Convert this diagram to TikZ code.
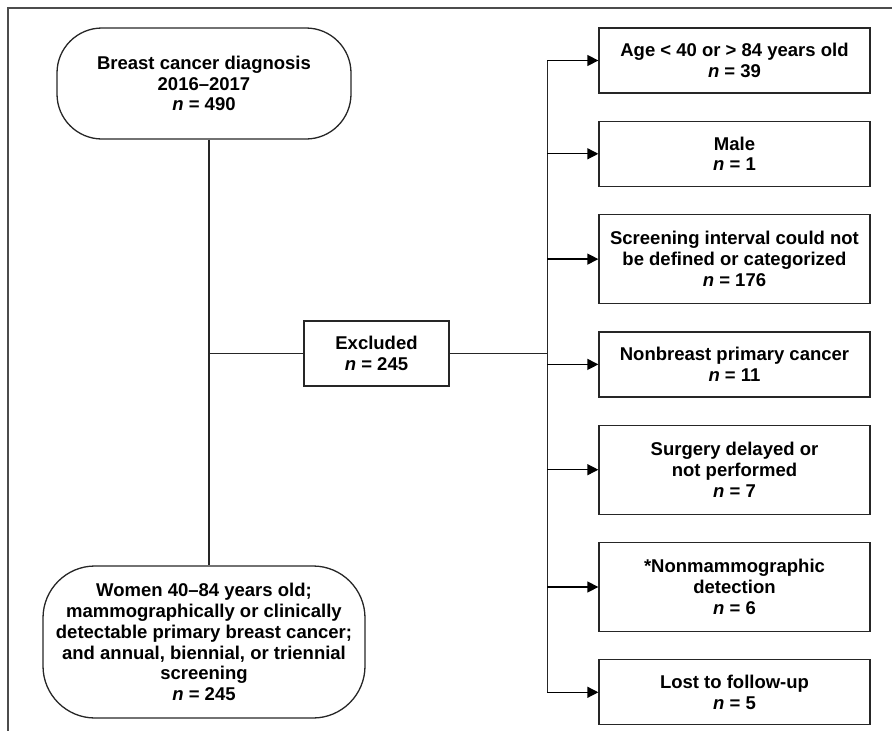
\documentclass[tikz,border=0pt]{standalone}
\usepackage{fontspec}
\setmainfont{Liberation Sans}
\usepackage{tikz}
\usetikzlibrary{positioning, arrows.meta}

\tikzset{
  roundbox/.style={draw=black!85, line width=1.3pt, align=center, inner sep=0pt},
  exbox/.style={draw=black!85, line width=1.3pt, align=center, inner sep=0pt, minimum width=145pt, minimum height=65pt},
  rbox/.style={draw=black!85, line width=1.3pt, align=center, inner sep=0pt, minimum width=271pt, minimum height=65pt},
  tall/.style={minimum height=89pt},
  arr/.style={-{Triangle[length=11pt,width=11pt]}, line width=1.3pt},
  link/.style={line width=1.3pt, black!85}
}

\begin{document}
\begin{tikzpicture}[x=1pt, y=1pt, font=\fontsize{18.5}{20.8}\selectfont\bfseries]
			\useasboundingbox (0,0) rectangle (892,-731);
			\draw[link, black!70] (8,-731) -- (8,-8) -- (892,-8);
			
			\node[roundbox, rounded corners=45pt, minimum width=294pt, minimum height=111pt] (start) at (204,-83.5) {Breast cancer diagnosis\\2016--2017\\\textit{n} = 490};
			\node[roundbox, rounded corners=52pt, minimum width=322pt, minimum height=152pt] (final) at (204,-642) {Women 40--84 years old;\\mammographically or clinically\\detectable primary breast cancer;\\and annual, biennial, or triennial\\screening\\\textit{n} = 245};
			\node[exbox] (excl) at (376.5,-353.5) {Excluded\\\textit{n} = 245};
			
			\node[rbox] (r1) at (734.5,-60.5) {Age < 40 or > 84 years old\\\textit{n} = 39};
			\node[rbox, below = 27pt of r1] (r2) {Male\\\textit{n} = 1};
			\node[rbox, tall, below = 27pt of r2] (r3) {Screening interval could not\\be defined or categorized\\\textit{n} = 176};
			\node[rbox, below = 27pt of r3] (r4) {Nonbreast primary cancer\\\textit{n} = 11};
			\node[rbox, tall, below = 27pt of r4] (r5) {Surgery delayed or\\not performed\\\textit{n} = 7};
			\node[rbox, tall, below = 27pt of r5] (r6) {*Nonmammographic\\detection\\\textit{n} = 6};
			\node[rbox, below = 27pt of r6] (r7) {Lost to follow-up\\\textit{n} = 5};
			
			\coordinate (trunk) at ([xshift=5pt]start.south);
			\coordinate (btop) at ([xshift=-51pt]r1.west);
			\coordinate (bbot) at ([xshift=-51pt]r7.west);
			
			\draw[link] (trunk) -- (trunk |- final.north);
			\draw[link] (excl.west) -- (excl.west -| trunk);
			\draw[link] (excl.east) -- (excl.east -| btop);
			\draw[link] (btop) -- (bbot);
			\foreach \i in {1,...,7}
				\draw[arr] (btop |- r\i.west) -- (r\i.west);
		\end{tikzpicture}
\end{document}
